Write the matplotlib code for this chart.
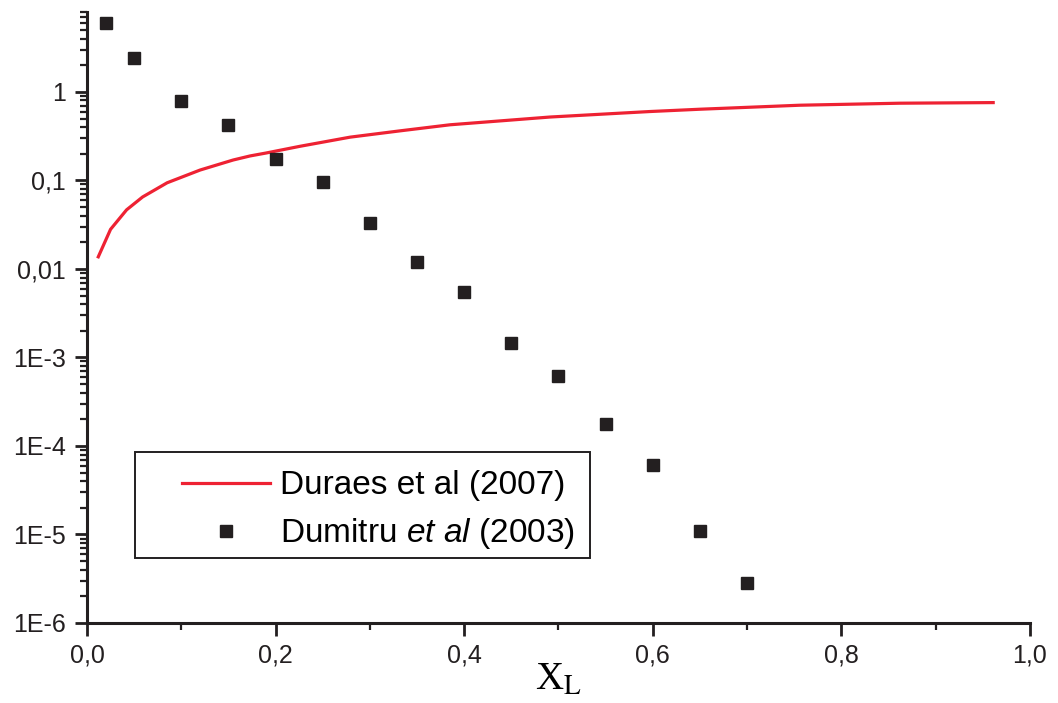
import numpy as np
import matplotlib
matplotlib.use("Agg")
import matplotlib.pyplot as plt
from matplotlib.patches import Rectangle
from matplotlib.ticker import FixedLocator, LogLocator, NullFormatter, MultipleLocator

# Duraes et al (2007) curve
duraes_x = [0.012, 0.025, 0.042, 0.059, 0.085, 0.12, 0.155, 0.173, 0.19, 0.226, 0.279,
            0.332, 0.385, 0.491, 0.597, 0.65, 0.756, 0.862, 0.961]
duraes_y = [0.0137, 0.028, 0.0465, 0.065, 0.094, 0.131, 0.17, 0.189, 0.204, 0.243, 0.308,
            0.363, 0.425, 0.52, 0.60, 0.637, 0.707, 0.745, 0.757]

# Dumitru et al (2003) points
dumitru_x = [0.02, 0.05, 0.1, 0.15, 0.2, 0.25, 0.3, 0.35, 0.4, 0.45, 0.5, 0.55, 0.6, 0.65, 0.7]
dumitru_y = [6.0, 2.42, 0.79, 0.42, 0.175, 0.096, 0.033, 0.012, 0.0055, 0.00146,
             6.2e-4, 1.77e-4, 6.1e-5, 1.1e-5, 2.83e-6]

ytick_vals = [1e-6, 1e-5, 1e-4, 1e-3, 1e-2, 1e-1, 1]
ytick_labels = ["1E-6", "1E-5", "1E-4", "1E-3", "0,01", "0,1", "1"]
xtick_vals = [0.0, 0.2, 0.4, 0.6, 0.8, 1.0]
xtick_labels = ["0,0", "0,2", "0,4", "0,6", "0,8", "1,0"]

ink = '#231f20'
plt.rcParams['font.family'] = ['Liberation Sans', 'DejaVu Sans']
plt.rcParams['mathtext.fontset'] = 'custom'
plt.rcParams['mathtext.it'] = 'Liberation Sans:italic'
plt.rcParams['mathtext.rm'] = 'Liberation Sans'

fig = plt.figure(figsize=(10.58, 7.03), dpi=100)
ax = fig.add_axes([0.0822, 0.1138, 0.8913, 0.8692])

ax.plot(duraes_x, duraes_y, color='#ee2233', linewidth=2.3, label='Duraes et al (2007)')
ax.plot(dumitru_x, dumitru_y, linestyle='none', marker='s', markersize=8,
        color=ink, label=r'Dumitru $\mathit{et\ al}$ (2003)')

ax.set_yscale('log')
ax.set_xlim(0, 1.0)
ax.set_ylim(1e-6, 8.0)

ax.yaxis.set_major_locator(FixedLocator(ytick_vals))
ax.set_yticklabels(ytick_labels)
ax.yaxis.set_minor_locator(LogLocator(base=10, subs=np.arange(2, 10), numticks=20))
ax.yaxis.set_minor_formatter(NullFormatter())
ax.set_xticks(xtick_vals)
ax.set_xticklabels(xtick_labels)
ax.xaxis.set_minor_locator(MultipleLocator(0.1))

for side in ['top', 'right']:
    ax.spines[side].set_visible(False)
for side in ['left', 'bottom']:
    ax.spines[side].set_linewidth(2.2)
    ax.spines[side].set_color(ink)

ax.tick_params(which='major', direction='out', length=9, width=2, labelsize=18, colors=ink, pad=6)
ax.tick_params(which='minor', direction='out', length=5, width=1.6, colors=ink)

ax.set_xlabel(r'X$_\mathrm{L}$', fontsize=28, labelpad=-4)
ax.xaxis.label.set_math_fontfamily('stix')
ax.xaxis.label.set_family('Liberation Serif')

# legend frame drawn by hand, the legend itself without frame
ax.add_patch(Rectangle((0.0509, 0.1064), 0.4825, 0.1735, transform=ax.transAxes,
                       facecolor='white', edgecolor=ink, linewidth=1.4, zorder=4))
leg = ax.legend(loc='upper left', bbox_to_anchor=(0.1007, 0.25), fontsize=24,
                frameon=False, handlelength=2.64, borderpad=0, labelspacing=0.45,
                handletextpad=0.3, borderaxespad=0)
leg.set_zorder(5)

fig.savefig('out.png', dpi=100)
